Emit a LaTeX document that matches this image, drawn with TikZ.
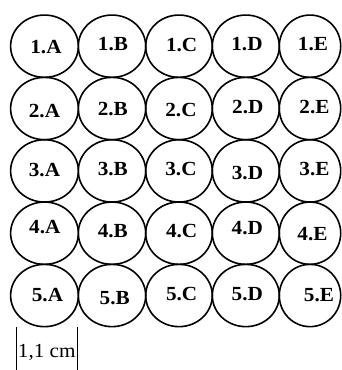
\documentclass[tikz,border=0pt]{standalone}
\usepackage{fontspec}
\setmainfont{Liberation Serif}[FakeStretch=1.06]
\usetikzlibrary{shapes.geometric}
\begin{document}
\begin{tikzpicture}[x=1pt,y=-1pt,
  cell/.style={ellipse,draw,line width=1.6pt,inner sep=0pt,outer sep=0pt},
  lab/.style={anchor=base,inner sep=0pt,font=\fontsize{20}{20}\selectfont\bfseries},
  bar/.style={line width=1pt}]
\useasboundingbox (0,0) rectangle (342,370);
% circles
\foreach \r/\cy in {1/46.2,2/108.5,3/170.9,4/233.2,5/295.5}{
  \node[cell,minimum width=67.8pt,minimum height=62.3pt] (c\r A) at (44.5,\cy) {};
  \node[cell,minimum width=67.4pt,minimum height=62.3pt] (c\r B) at (112,\cy) {};
  \node[cell,minimum width=66.6pt,minimum height=62.3pt] (c\r C) at (179,\cy) {};
  \node[cell,minimum width=67pt,minimum height=62.3pt] (c\r D) at (245.8,\cy) {};
  \node[cell,minimum width=61.4pt,minimum height=62.3pt] (c\r E) at (310,\cy) {};
}
% labels
\node[lab] (l1A) at (46,53.3) {1.A};
\node[lab] (l1B) at (113,50.7) {1.B};
\node[lab] (l1C) at (181.7,51.7) {1.C};
\node[lab] (l1D) at (247,50.7) {1.D};
\node[lab] (l1E) at (313,50.7) {1.E};
\node[lab] (l2A) at (44.5,117.3) {2.A};
\node[lab] (l2B) at (112.8,115) {2.B};
\node[lab] (l2C) at (181,116) {2.C};
\node[lab] (l2D) at (247.8,113.3) {2.D};
\node[lab] (l2E) at (314.5,113.3) {2.E};
\node[lab] (l3A) at (44.5,176.7) {3.A};
\node[lab] (l3B) at (112.8,175) {3.B};
\node[lab] (l3C) at (181,175) {3.C};
\node[lab] (l3D) at (247.5,179.3) {3.D};
\node[lab] (l3E) at (314.5,175) {3.E};
\node[lab] (l4A) at (44.8,233.3) {4.A};
\node[lab] (l4B) at (112.8,237.3) {4.B};
\node[lab] (l4C) at (181.7,237.3) {4.C};
\node[lab] (l4D) at (247.3,234.3) {4.D};
\node[lab] (l4E) at (312.5,240.7) {4.E};
\node[lab] (l5A) at (47.5,301.7) {5.A};
\node[lab] (l5B) at (114.7,304) {5.B};
\node[lab] (l5C) at (181.7,300.7) {5.C};
\node[lab] (l5D) at (247.3,300.7) {5.D};
\node[lab] (l5E) at (319,301.7) {5.E};
% scale bar
\coordinate (b1t) at (16.7,327);
\coordinate (b1b) at (16.7,370);
\coordinate (b2t) at (77.3,327);
\coordinate (b2b) at (77.3,370);
\draw[bar] (b1t) -- (b1b);
\draw[bar] (b2t) -- (b2b);
\node[anchor=base,inner sep=0pt,font=\fontsize{20}{20}\selectfont] (scale) at (46.8,357) {1,1 cm};
\end{tikzpicture}
\end{document}
